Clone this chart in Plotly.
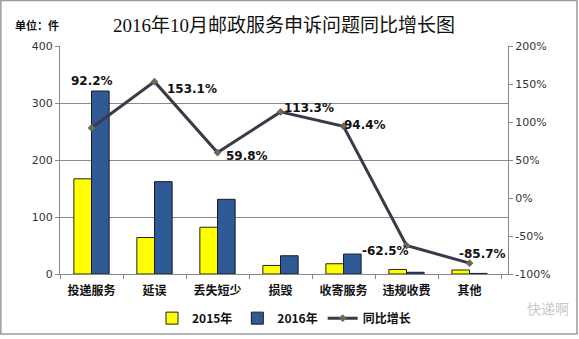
import plotly.graph_objects as go

categories = ["投递服务", "延误", "丢失短少", "损毁", "收寄服务", "违规收费", "其他"]
v2015 = [167, 64, 82, 15, 18, 8, 7]
v2016 = [321, 162, 131, 32, 35, 3, 1]
growth = [92.2, 153.1, 59.8, 113.3, 94.4, -62.5, -85.7]
growth_labels = ["92.2%", "153.1%", "59.8%", "113.3%", "94.4%", "-62.5%", "-85.7%"]
left_ticks = [0, 100, 200, 300, 400]
right_ticks = [-100, -50, 0, 50, 100, 150, 200]
right_tick_text = ["-100%", "-50%", "0%", "50%", "100%", "150%", "200%"]

# label offsets (pixels) relative to each line point
label_shift = [(0, 47), (37, -7), (29, -3), (28, 4), (21, 1), (-21, -5), (13, 9)]

fig = go.Figure()
fig.add_trace(go.Bar(x=categories, y=v2015, name="2015年",
                     marker=dict(color="#FFFF00", line=dict(color="#222222", width=1))))
fig.add_trace(go.Bar(x=categories, y=v2016, name="2016年",
                     marker=dict(color="#2F5A96", line=dict(color="#1a1a2a", width=1))))
fig.add_trace(go.Scatter(x=categories, y=growth, name="同比增长", yaxis="y2",
                         mode="lines+markers",
                         line=dict(color="#3A3A48", width=3),
                         marker=dict(symbol="diamond", size=6, color="#6b6b55")))

for c, g, t, (dx, dy) in zip(categories, growth, growth_labels, label_shift):
    fig.add_annotation(x=c, y=g, yref="y2", text=t, showarrow=False,
                       xshift=dx, yshift=dy,
                       font=dict(family="DejaVu Sans", size=12, color="#111111", weight="bold"))

fig.add_annotation(xref="paper", yref="paper", x=0.5, y=1.0, yshift=21, yanchor="middle",
                   text="2016年10月邮政服务申诉问题同比增长图", showarrow=False,
                   xanchor="center",
                   font=dict(family="Liberation Serif, Noto Sans CJK SC", size=19, color="#111111"))
fig.add_annotation(xref="paper", yref="paper", x=-0.105, y=1.0, yshift=21, yanchor="middle",
                   text="单位：件", showarrow=False, xanchor="left",
                   font=dict(family="Noto Sans CJK SC", size=11, color="#111111", weight="bold"))
fig.add_annotation(xref="paper", yref="paper", x=1.14, y=-0.2,
                   text="快递啊", showarrow=False, xanchor="right",
                   font=dict(family="Noto Sans CJK SC", size=14, color="#c8c8c8"))

fig.add_shape(type="rect", xref="paper", yref="paper",
              x0=-0.132, x1=1.154, y0=-0.263, y1=1.2,
              line=dict(color="#9a9a9a", width=1.5), fillcolor="rgba(0,0,0,0)")

fig.update_layout(
    width=579, height=339,
    margin=dict(l=60, r=71, t=46, b=65, autoexpand=False),
    paper_bgcolor="white", plot_bgcolor="white",
    barmode="group", bargap=0.44, bargroupgap=0,
    showlegend=True,
    legend=dict(orientation="h", x=0.5, xanchor="center", y=-0.13, yanchor="top",
                font=dict(family="Noto Sans CJK SC", size=12, color="#111111", weight="bold"),
                itemwidth=30, tracegroupgap=0),
    xaxis=dict(showline=True, linecolor="#888888", linewidth=1,
               ticks="outside", tickson="boundaries", ticklen=4, tickcolor="#888888",
               ticklabelstandoff=6, automargin=False,
               tickfont=dict(family="Noto Sans CJK SC", size=12, color="#111111", weight="bold")),
    yaxis=dict(range=[0, 400], tickvals=left_ticks, showline=True, linecolor="#888888",
               ticks="outside", ticklen=4, tickcolor="#888888", automargin=False,
               showgrid=True, gridcolor="#8a8a8a", gridwidth=1, zeroline=False,
               tickfont=dict(family="DejaVu Sans", size=11, color="#333333")),
    yaxis2=dict(range=[-100, 200], tickvals=right_ticks, ticktext=right_tick_text,
                overlaying="y", side="right", showline=True, linecolor="#888888",
                ticks="outside", ticklen=4, tickcolor="#888888", automargin=False,
                showgrid=False, zeroline=False,
                tickfont=dict(family="DejaVu Sans", size=11, color="#333333")),
)

fig.write_html("out.html")
